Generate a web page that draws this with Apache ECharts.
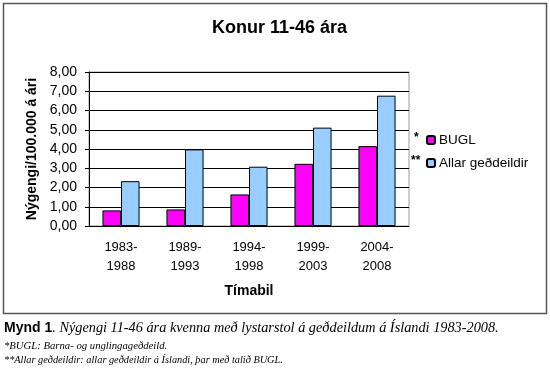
<!DOCTYPE html>
<html><head><meta charset="utf-8">
<script src="https://cdn.jsdelivr.net/npm/echarts@6/dist/echarts.min.js"></script>
<style>html,body{margin:0;padding:0;background:#fff}#c{width:550px;height:373px}</style>
</head><body><div id="c"></div>
<script>
var categories = ['1983-\n1988', '1989-\n1993', '1994-\n1998', '1999-\n2003', '2004-\n2008'];
var bugl = [0.81, 0.86, 1.64, 3.23, 4.15];
var allar = [2.33, 3.98, 3.08, 5.11, 6.77];
var seriesNames = ['BUGL', 'Allar geðdeildir'];
var yTicks = {min: 0, max: 8, interval: 1};

var chart = echarts.init(document.getElementById('c'), null, {renderer: 'canvas'});
var F = 'Liberation Sans, Arial, sans-serif';
var S = 'Liberation Serif, serif';
chart.setOption({
  animation: false,
  backgroundColor: '#fff',
  title: {
    text: 'Konur 11-46 ára', left: 207, top: 14,
    textStyle: {fontFamily: F, fontSize: 18, fontWeight: 'bold', color: '#000'}
  },
  legend: {
    orient: 'vertical', left: 421, top: 128, itemWidth: 8, itemHeight: 8, itemGap: 9,
    textStyle: {fontFamily: F, fontSize: 13.5, color: '#000', padding: [0, 0, 0, -1]},
    data: seriesNames
  },
  grid: {left: 89, right: 141, top: 72, bottom: 147, show: true, borderColor: '#999', borderWidth: 1},
  xAxis: {
    type: 'category', data: categories,
    name: 'Tímabil', nameLocation: 'middle', nameGap: 58,
    nameTextStyle: {fontFamily: F, fontSize: 14, fontWeight: 'bold', color: '#000'},
    axisLine: {lineStyle: {color: '#000'}},
    axisTick: {length: 4, lineStyle: {color: '#000'}},
    axisLabel: {fontFamily: F, fontSize: 13, color: '#000', margin: 12, lineHeight: 19}
  },
  yAxis: {
    type: 'value', min: yTicks.min, max: yTicks.max, interval: yTicks.interval,
    name: 'Nýgengi/100.000 á ári', nameLocation: 'middle', nameGap: 43,
    nameTextStyle: {fontFamily: F, fontSize: 14, fontWeight: 'bold', color: '#000'},
    axisLine: {show: true, lineStyle: {color: '#000'}},
    axisTick: {show: true, length: 4, lineStyle: {color: '#000'}},
    splitLine: {lineStyle: {color: '#000', width: 1}},
    axisLabel: {fontFamily: F, fontSize: 14, color: '#000', margin: 12,
      formatter: function (v) { return v.toFixed(2).replace('.', ','); }}
  },
  series: [
    {name: seriesNames[0], type: 'bar', data: bugl, barCategoryGap: '42%', barGap: '0%',
      itemStyle: {color: '#FF00FF', borderColor: '#000', borderWidth: 1}},
    {name: seriesNames[1], type: 'bar', data: allar,
      itemStyle: {color: '#99CCFF', borderColor: '#000', borderWidth: 1}}
  ],
  graphic: [
    {type: 'rect', shape: {x: 3.5, y: 3.5, width: 543, height: 310}, silent: true,
      style: {fill: 'none', stroke: '#555', lineWidth: 1.5}, z: -1},
    {type: 'text', left: 414, top: 132, style: {text: '*', font: 'bold 12px ' + F, fill: '#000'}},
    {type: 'text', left: 411, top: 155, style: {text: '**', font: 'bold 12px ' + F, fill: '#000'}},
    {type: 'text', left: 4, top: 321, style: {
      rich: {
        b: {fontFamily: F, fontSize: 14, fontWeight: 'bold', color: '#000'},
        i: {fontFamily: S, fontStyle: 'italic', fontSize: 14.3, color: '#000'}
      },
      text: '{b|Mynd 1}{i|. Nýgengi 11-46 ára kvenna með lystarstol á geðdeildum á Íslandi 1983-2008.}'
    }},
    {type: 'text', left: 4, top: 341, style: {text: '*BUGL: Barna- og unglingageðdeild.',
      font: 'italic 10.7px ' + S, fill: '#000'}},
    {type: 'text', left: 4, top: 355, style: {text: '**Allar geðdeildir: allar geðdeildir á Íslandi, þar með talið BUGL.',
      font: 'italic 10.3px ' + S, fill: '#000'}}
  ]
});
</script></body></html>
